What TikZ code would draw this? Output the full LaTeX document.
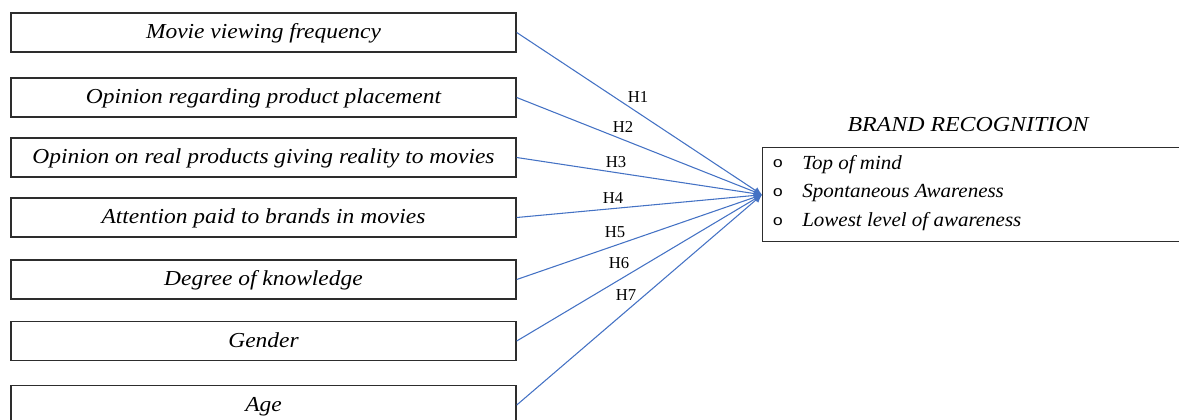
\documentclass[tikz,border=0pt]{standalone}
\usepackage{fontspec}
\setmainfont{Liberation Serif}
\newfontfamily\boxfont[FakeStretch=1.1]{Liberation Serif}
\newfontfamily\titlefont[FakeStretch=1.12]{Liberation Serif}
\newfontfamily\itemfont[FakeStretch=1.05]{Liberation Serif}
\newfontfamily\bulletfont[FakeStretch=1.2]{Liberation Mono}
\usetikzlibrary{arrows.meta}
\definecolor{linkblue}{RGB}{68,114,196}
\definecolor{boxgray}{RGB}{45,45,45}
\begin{document}
\begin{tikzpicture}[x=0.75pt, y=-0.75pt,
    factor/.style={draw=boxgray, line width=1.1pt, minimum width=378.75pt, minimum height=29.5pt,
        inner sep=0pt, text height=12pt, text depth=3pt, font=\boxfont\fontsize{16}{18}\selectfont\itshape},
    link/.style={draw=linkblue, line width=0.8pt, -{Latex[length=6pt, width=5.5pt]}},
    hyp/.style={font=\fontsize{12.5}{14}\selectfont, inner sep=0pt},
    bullet/.style={inner sep=0pt, font=\bulletfont\fontsize{11}{12}\selectfont},
    item/.style={anchor=west, inner sep=0pt, font=\itemfont\fontsize{15}{17}\selectfont\itshape}]
    \useasboundingbox (0,0) rectangle (1179,419);
    \clip (0,0) rectangle (1179,419);
    % ==================== 左侧：影响因素 ====================
    \node[factor] (f1) at (263.5, 32.5) {Movie viewing frequency};
    \node[factor] (f2) at (263.5, 97.5) {Opinion regarding product placement};
    \node[factor] (f3) at (263.5, 157.5) {Opinion on real products giving reality to movies};
    \node[factor] (f4) at (263.5, 217.5) {Attention paid to brands in movies};
    \node[factor] (f5) at (263.5, 279.5) {Degree of knowledge};
    \node[factor] (f6) at (263.5, 341) {Gender};
    \node[factor] (f7) at (263.5, 405) {Age};

    % ==================== 右侧：品牌识别 ====================
    \node[inner sep=0pt, font=\titlefont\fontsize{16}{18}\selectfont\itshape] (title) at (968, 125) {BRAND RECOGNITION};
    \node[draw=boxgray, line width=1.1pt, anchor=north west, minimum width=319.5pt, minimum height=70.5pt, inner sep=0pt] (rec) at (762, 147) {};
    \node[bullet] (b1) at (778, 164) {o};
    \node[bullet] (b2) at (778, 193) {o};
    \node[bullet] (b3) at (778, 222) {o};
    \node[item] (i1) at (802, 165) {Top of mind};
    \node[item] (i2) at (802, 193) {Spontaneous Awareness};
    \node[item] (i3) at (802, 222) {Lowest level of awareness};

    % 汇聚点
    \coordinate (hub) at (rec.west);

    % 假设路径 H1--H7
    \draw[link] (f1.east) -- (hub);
    \draw[link] (f2.east) -- (hub);
    \draw[link] (f3.east) -- (hub);
    \draw[link] (f4.east) -- (hub);
    \draw[link] (f5.east) -- (hub);
    \draw[link] (f6.east) -- (hub);
    \draw[link] (f7.east) -- (hub);

    \node[hyp] (h1) at (638, 97) {H1};
    \node[hyp] (h2) at (623, 127) {H2};
    \node[hyp] (h3) at (616, 162) {H3};
    \node[hyp] (h4) at (613, 198) {H4};
    \node[hyp] (h5) at (615, 232) {H5};
    \node[hyp] (h6) at (619, 263) {H6};
    \node[hyp] (h7) at (626, 295) {H7};
\end{tikzpicture}
\end{document}
